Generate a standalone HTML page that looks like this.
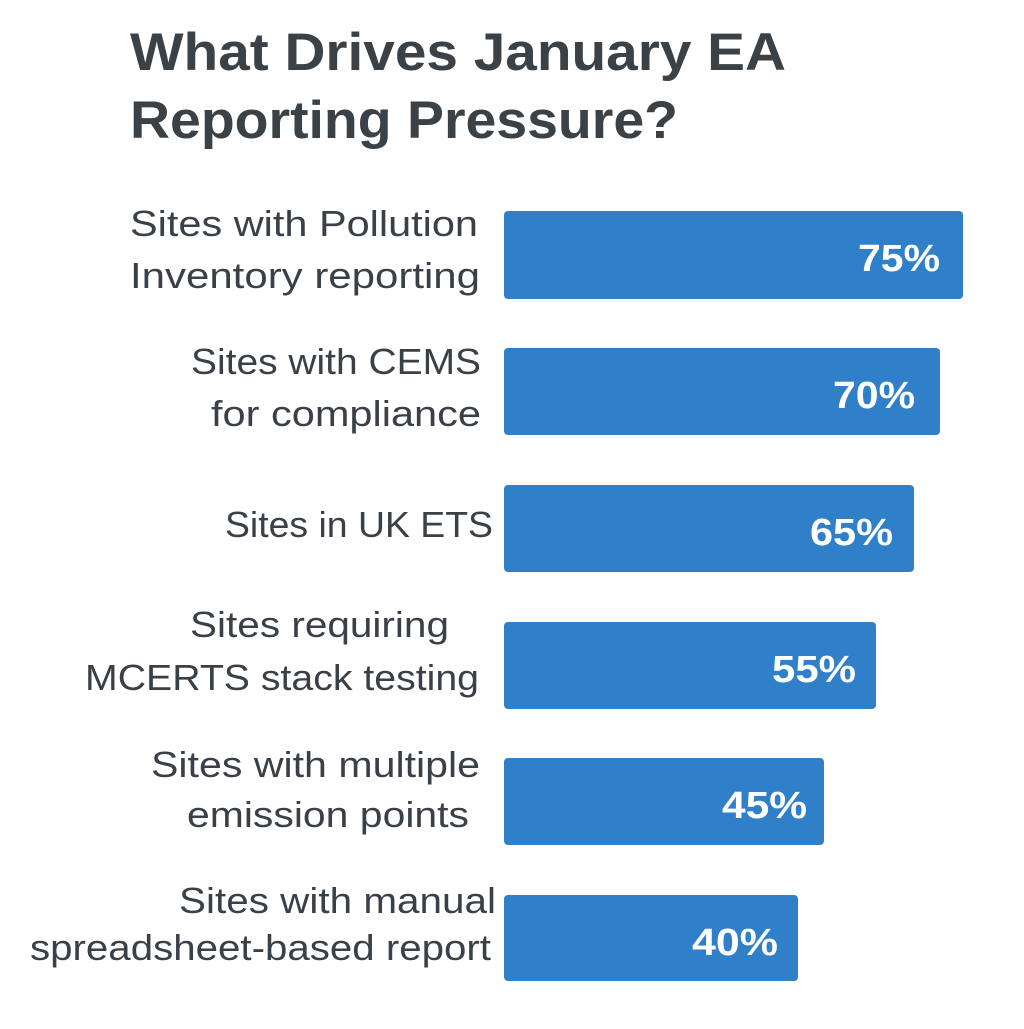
<!DOCTYPE html>
<html><head><meta charset="utf-8"><style>html,body{margin:0;padding:0;background:#fff}</style></head>
<body>
<svg width="1024" height="1024" xmlns="http://www.w3.org/2000/svg" font-family="Liberation Sans, sans-serif">
<rect width="1024" height="1024" fill="#fff"/>
<g fill="#3b4247" font-weight="bold" font-size="53">
<text x="130" y="70" textLength="656" lengthAdjust="spacingAndGlyphs">What Drives January EA</text>
<text x="130" y="138" textLength="548" lengthAdjust="spacingAndGlyphs">Reporting Pressure?</text>
</g>
<g fill="#2f80c8">
<rect x="504" y="211" width="459" height="88" rx="4"/>
<rect x="504" y="348" width="436" height="87" rx="4"/>
<rect x="504" y="485" width="410" height="87" rx="4"/>
<rect x="504" y="622" width="372" height="87" rx="4"/>
<rect x="504" y="758" width="320" height="87" rx="4"/>
<rect x="504" y="895" width="294" height="86" rx="4"/>
</g>
<g fill="#3a4048" font-size="36">
<text x="130" y="236" textLength="348" lengthAdjust="spacingAndGlyphs">Sites with Pollution</text>
<text x="130" y="288" textLength="350" lengthAdjust="spacingAndGlyphs">Inventory reporting</text>
<text x="191" y="374" textLength="290" lengthAdjust="spacingAndGlyphs">Sites with CEMS</text>
<text x="211" y="426" textLength="270" lengthAdjust="spacingAndGlyphs">for compliance</text>
<text x="225" y="537" textLength="268" lengthAdjust="spacingAndGlyphs">Sites in UK ETS</text>
<text x="190" y="637" textLength="259" lengthAdjust="spacingAndGlyphs">Sites requiring</text>
<text x="85" y="690" textLength="394" lengthAdjust="spacingAndGlyphs">MCERTS stack testing</text>
<text x="151" y="777" textLength="329" lengthAdjust="spacingAndGlyphs">Sites with multiple</text>
<text x="187" y="827" textLength="282" lengthAdjust="spacingAndGlyphs">emission points</text>
<text x="179" y="913" textLength="317" lengthAdjust="spacingAndGlyphs">Sites with manual</text>
<text x="30" y="960" textLength="461" lengthAdjust="spacingAndGlyphs">spreadsheet-based report</text>
</g>
<g fill="#fff" font-weight="bold" font-size="38">
<text x="858" y="271" textLength="82" lengthAdjust="spacingAndGlyphs">75%</text>
<text x="833" y="408" textLength="82" lengthAdjust="spacingAndGlyphs">70%</text>
<text x="810" y="545" textLength="83" lengthAdjust="spacingAndGlyphs">65%</text>
<text x="772" y="682" textLength="84" lengthAdjust="spacingAndGlyphs">55%</text>
<text x="722" y="818" textLength="85" lengthAdjust="spacingAndGlyphs">45%</text>
<text x="692" y="955" textLength="86" lengthAdjust="spacingAndGlyphs">40%</text>
</g>
</svg>
</body></html>
